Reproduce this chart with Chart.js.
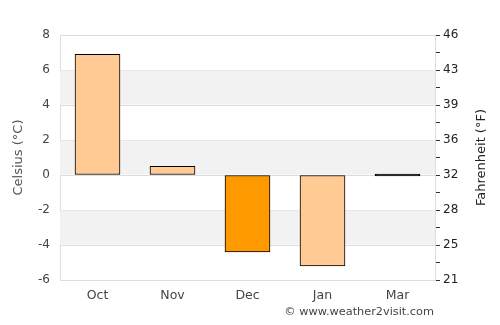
<!DOCTYPE html>
<html><head><meta charset="utf-8">
<script src="https://cdn.jsdelivr.net/npm/chart.js@4"></script>
<style>
html,body{margin:0;padding:0;background:#fff;}
#wrap{position:relative;width:500px;height:325px;}
#credit{position:absolute;right:66px;top:305px;font:11.3px "DejaVu Sans";color:#444;white-space:nowrap;}
</style></head>
<body>
<div id="wrap"><canvas id="c" width="500" height="325"></canvas><div id="credit">© www.weather2visit.com</div></div>
<script>
const months = ["Oct","Nov","Dec","Jan","Mar"];
const celsius = [6.9, 0.5, -4.4, -5.2, 0];
const barColors = ["#FFCA94","#FFCA94","#FF9900","#FFCA94","#FFCA94"];
const cMin = -6, cMax = 8;
const fLabels = {"8":"46","6":"43","4":"39","2":"36","0":"32","-2":"28","-4":"25","-6":"21"};

const bands = {
  id:'bands',
  beforeDatasetsDraw(chart){
    const {ctx, chartArea, scales} = chart;
    const y = scales.y;
    ctx.save();
    ctx.fillStyle = '#f2f2f2';
    for (let v = cMax - 2; v > cMin; v -= 4) {
      const t = y.getPixelForValue(v), b = y.getPixelForValue(v - 2);
      ctx.fillRect(chartArea.left, t + 0.5, chartArea.right - chartArea.left, b - t - 1);
    }
    ctx.restore();
  },
  afterDraw(chart){
    const {ctx, chartArea} = chart;
    ctx.save();
    ctx.font = '13px "DejaVu Sans"';
    ctx.fillStyle = '#222';
    ctx.textAlign = 'center';
    ctx.textBaseline = 'middle';
    ctx.translate(482, (chartArea.top + chartArea.bottom) / 2);
    ctx.rotate(-Math.PI / 2);
    ctx.fillText('Fahrenheit (°F)', 0, 0);
    ctx.restore();
  }
};

new Chart(document.getElementById('c'), {
  type:'bar',
  data:{labels:months, datasets:[{data:celsius,
    backgroundColor:(c)=> (c.raw === 0 ? '#000' : barColors[c.dataIndex]),
    borderColor:'#000', borderWidth:1, borderSkipped:false, minBarLength:2, barThickness:45, categoryPercentage:1}]},
  options:{
    responsive:false, animation:false,
    layout:{padding:{top:35,left:0,right:0,bottom:0}},
    plugins:{legend:{display:false}, tooltip:{enabled:false}},
    scales:{
      x:{
        grid:{display:false, drawTicks:false},
        border:{color:'#ddd'},
        ticks:{color:'#444', font:{family:'DejaVu Sans', size:12.5}, padding:8},
        afterFit(s){s.height=45;}
      },
      y:{
        position:'left', min:cMin, max:cMax,
        ticks:{stepSize:2, color:'#444', font:{family:'DejaVu Sans', size:12}, padding:10},
        grid:{color:'#ddd', drawTicks:false},
        border:{color:'#ddd'},
        title:{display:true, text:'Celsius (°C)', color:'#555', font:{family:'DejaVu Sans', size:13}, padding:{top:11,bottom:0}},
        afterFit(s){s.width=60;}
      },
      y2:{
        position:'right', min:cMin, max:cMax,
        ticks:{stepSize:1, color:'#222', font:{family:'DejaVu Sans', size:12}, padding:3, autoSkip:false,
          callback:(v)=> (fLabels[String(v)] !== undefined ? fLabels[String(v)] : '')},
        grid:{drawOnChartArea:false, color:'#333', tickLength:5},
        border:{color:'#ddd'},
        afterFit(s){s.width=65;}
      }
    }
  },
  plugins:[bands]
});
</script>
</body></html>
